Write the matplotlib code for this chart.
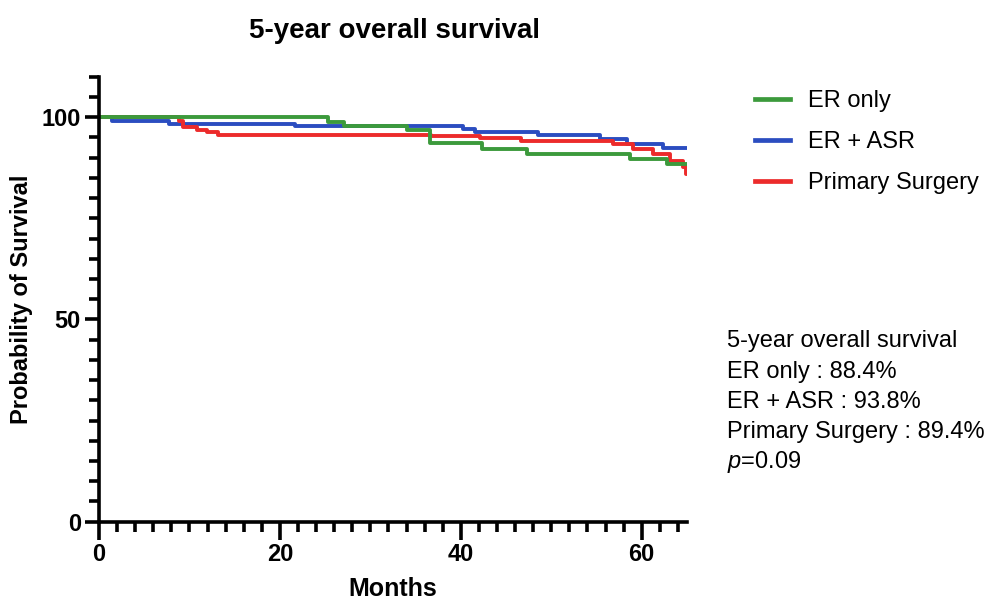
import matplotlib
matplotlib.use("Agg")
import matplotlib.pyplot as plt
from matplotlib.ticker import MultipleLocator

plt.rcParams['font.family'] = ['Liberation Sans', 'DejaVu Sans']
plt.rcParams['mathtext.fontset'] = 'custom'
plt.rcParams['mathtext.rm'] = 'Liberation Sans'
plt.rcParams['mathtext.it'] = 'Liberation Sans:italic'

# Kaplan-Meier step data (months, survival %)
er_only_t = [0, 25.3, 27.1, 34.1, 36.6, 42.3, 47.3, 58.7, 62.8, 65]
er_only_s = [100, 98.9, 97.9, 96.7, 93.5, 92.2, 90.9, 89.6, 88.3, 88.3]

er_asr_t = [0, 1.4, 7.7, 21.7, 40.2, 41.6, 48.5, 55.4, 58.4, 62.4, 65]
er_asr_s = [100, 99.1, 98.2, 97.7, 97.0, 96.4, 95.7, 94.5, 93.3, 92.4, 92.4]

surgery_t = [0, 8.8, 9.3, 10.8, 11.9, 13.2, 36.7, 42.1, 46.7, 56.8, 59.0, 61.2,
             63.1, 64.6, 64.9, 65]
surgery_s = [100, 99.1, 97.5, 96.9, 96.3, 95.7, 95.4, 94.9, 94.1, 93.3, 92.0,
             90.8, 89.2, 87.6, 86.0, 86.0]

labels = ["ER only", "ER + ASR", "Primary Surgery"]
colors = ["#3C9A3C", "#2B4DC0", "#EC2B2B"]

summary_lines = ["5-year overall survival", "ER only : 88.4%", "ER + ASR : 93.8%",
                 "Primary Surgery : 89.4%", "$p$=0.09"]

fig = plt.figure(figsize=(9.94, 5.99), dpi=100)
ax = fig.add_axes([0.0996, 0.129, 0.5915, 0.743])

# Draw order: blue, red, then green on top
h_asr, = ax.step(er_asr_t, er_asr_s, where='post', color=colors[1], lw=2.8)
h_sur, = ax.step(surgery_t, surgery_s, where='post', color=colors[2], lw=2.8)
h_er, = ax.step(er_only_t, er_only_s, where='post', color=colors[0], lw=2.8)

ax.set_xlim(0, 65)
ax.set_ylim(0, 110)
ax.set_xticks([0, 20, 40, 60])
ax.set_yticks([0, 50, 100])
ax.xaxis.set_minor_locator(MultipleLocator(2))
ax.yaxis.set_minor_locator(MultipleLocator(5))

for side in ['top', 'right']:
    ax.spines[side].set_visible(False)
for side in ['left', 'bottom']:
    ax.spines[side].set_linewidth(2.6)

ax.tick_params(which='major', width=2.6, length=10, labelsize=17, pad=3)
ax.tick_params(axis='x', which='major', length=13, pad=2)
ax.tick_params(which='minor', width=2.6, length=7)
for lab in ax.get_xticklabels() + ax.get_yticklabels():
    lab.set_fontweight('bold')

ax.set_xlabel("Months", fontsize=18, fontweight='bold', labelpad=8)
ax.set_ylabel("Probability of Survival", fontsize=17, fontweight='bold', labelpad=6)
fig.text(0.397, 0.948, "5-year overall survival", fontsize=20, fontweight='bold',
         ha='center', va='center')

leg = fig.legend([h_er, h_asr, h_sur], labels, loc='upper left',
                 bbox_to_anchor=(0.738, 0.885), frameon=False, fontsize=17,
                 handlelength=1.5, handletextpad=0.75, labelspacing=0.8)
for line in leg.get_lines():
    line.set_linewidth(3.4)

y_px = [341, 372, 402, 432, 462]
for txt, yp in zip(summary_lines, y_px):
    fig.text(727 / 994, 1 - yp / 599, txt, fontsize=17, ha='left', va='center')

fig.savefig("out.png", dpi=100)
